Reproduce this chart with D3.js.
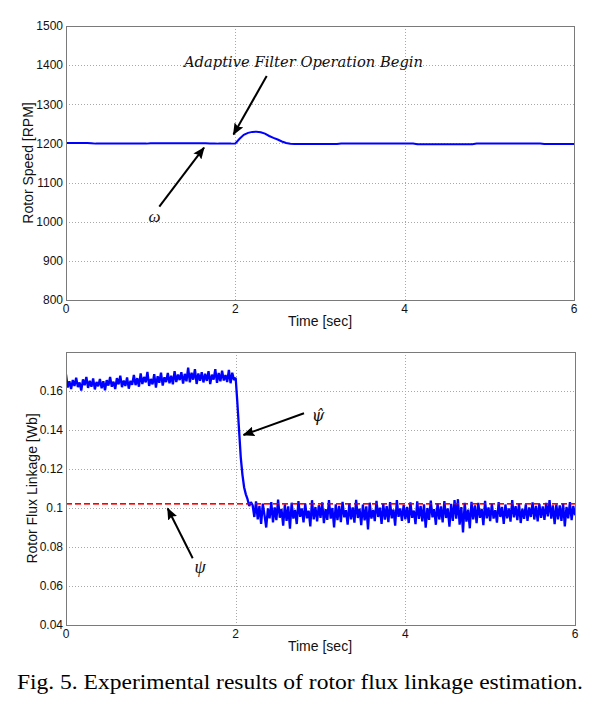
<!DOCTYPE html>
<html><head><meta charset="utf-8">
<script src="https://cdn.jsdelivr.net/npm/d3@7"></script>
<style>body{margin:0;background:#fff} svg{display:block}</style>
</head><body>
<svg id="c" width="604" height="707"></svg>
<script>
// ---------- data ----------
const xTicks = [0, 2, 4, 6];
const xTickLabels = ["0", "2", "4", "6"];
const speedTicks = [800, 900, 1000, 1100, 1200, 1300, 1400, 1500];
const speedTickLabels = ["800", "900", "1000", "1100", "1200", "1300", "1400", "1500"];
const fluxTicks = [0.04, 0.06, 0.08, 0.1, 0.12, 0.14, 0.16];
const fluxTickLabels = ["0.04", "0.06", "0.08", "0.1", "0.12", "0.14", "0.16"];
const fluxDomain = [0.04, 0.18];
const speedDomain = [800, 1500];
const timeDomain = [0, 6];

// rotor speed [RPM], sampled every 0.05 s from 0 to 6 s
const speedStep = 0.05;
const speedValues = [
  1201, 1201, 1201, 1201, 1201, 1201, 1200.5,
  1199.5, 1199.5, 1199.5, 1199.5, 1199.5, 1199.5, 1199.5, 1199.5, 1199.5, 1199.5, 1199.5, 1199.5, 1199.5,
  1200.5, 1200.5, 1200.5, 1200.5, 1200.5, 1200.5, 1200.5, 1200.5, 1200.5, 1200.5, 1200.5, 1200.5, 1200.5, 1200.5,
  1200, 1200, 1199.5, 1199.5, 1199.5, 1199.5,
  1200, 1212, 1222, 1227, 1229.5, 1230, 1228.5, 1225, 1219, 1214, 1210, 1205, 1201, 1199, 1198.5,
  1198.5, 1198.5, 1198.5, 1198.5, 1198.5, 1198.5, 1198.5, 1198.5, 1198.5, 1198.5,
  1199.5, 1199.5, 1199.5, 1199.5, 1199.5, 1199.5, 1199.5, 1199.5, 1199.5, 1199.5, 1199.5, 1199.5, 1199.5, 1199.5, 1199.5, 1199.5, 1199.5, 1199.5,
  1198, 1198, 1198, 1198, 1198, 1198, 1198, 1198, 1198, 1198, 1198, 1198, 1198, 1198,
  1199.5, 1199.5, 1199.5, 1199.5, 1199.5, 1199.5, 1199.5, 1199.5, 1199.5, 1199.5, 1199.5, 1199.5, 1199.5, 1199.5, 1199.5, 1199.5,
  1198.5, 1198.5, 1198.5, 1198.5, 1198.5, 1198.5, 1198.5, 1198.5
];

// estimated rotor flux linkage [Wb], sampled every 0.02 s from 0 to 6 s
const fluxStep = 0.02;
const fluxEstimated = [
  0.1685, 0.1618, 0.1650, 0.1610, 0.1656, 0.1626, 0.1668, 0.1620, 0.1644, 0.1602, 0.1660, 0.1630, 0.1672, 0.1616, 0.1652, 0.1622, 0.1664, 0.1608, 0.1646, 0.1624,
  0.1662, 0.1614, 0.1650, 0.1604, 0.1656, 0.1628, 0.1672, 0.1622, 0.1648, 0.1610, 0.1666, 0.1634, 0.1678, 0.1620, 0.1654, 0.1626, 0.1670, 0.1612, 0.1652, 0.1632,
  0.1682, 0.1630, 0.1666, 0.1622, 0.1690, 0.1636, 0.1672, 0.1644, 0.1698, 0.1626, 0.1662, 0.1634, 0.1686, 0.1618, 0.1676, 0.1642, 0.1694, 0.1628, 0.1670, 0.1646,
  0.1692, 0.1640, 0.1678, 0.1634, 0.1702, 0.1646, 0.1684, 0.1656, 0.1696, 0.1638, 0.1688, 0.1650, 0.1720, 0.1644, 0.1694, 0.1658, 0.1712, 0.1636, 0.1690, 0.1652,
  0.1696, 0.1644, 0.1688, 0.1652, 0.1702, 0.1636, 0.1684, 0.1658, 0.1712, 0.1642, 0.1692, 0.1650, 0.1704, 0.1654, 0.1682, 0.1646, 0.1708, 0.1640, 0.1694, 0.1656,
  0.1668, 0.1540, 0.1400, 0.1260, 0.1170, 0.1105, 0.1070, 0.1045, 0.1010, 0.1030,
  0.1014, 0.0954, 0.1034, 0.0942, 0.1011, 0.0918, 0.1022, 0.0963, 0.0900, 0.0998,
  0.0947, 0.1030, 0.0926, 0.1003, 0.0938, 0.1043, 0.0950, 0.0995, 0.0910, 0.1018,
  0.0934, 0.1008, 0.0894, 0.1027, 0.0946, 0.0990, 0.0918, 0.1035, 0.0955, 0.0998,
  0.0926, 0.1022, 0.0947, 0.0986, 0.0906, 0.1040, 0.0942, 0.1005, 0.0931, 0.1014,
  0.0950, 0.1029, 0.0922, 0.0994, 0.0939, 0.1040, 0.0946, 0.1000, 0.0901, 0.1019,
  0.0938, 0.1011, 0.0928, 0.1032, 0.0952, 0.0989, 0.0915, 0.1024, 0.0942, 0.1003,
  0.0925, 0.1042, 0.0949, 0.0997, 0.0912, 0.1018, 0.0936, 0.1008, 0.0890, 0.1027,
  0.0946, 0.0990, 0.0933, 0.1037, 0.0954, 0.1002, 0.0918, 0.1021, 0.0941, 0.1010,
  0.0928, 0.1030, 0.0947, 0.0992, 0.0909, 0.1040, 0.0955, 0.0998, 0.0934, 0.1016,
  0.0942, 0.1006, 0.0923, 0.1029, 0.0950, 0.0987, 0.0917, 0.1034, 0.0944, 0.1011,
  0.0931, 0.1019, 0.0899, 0.1000, 0.0939, 0.1038, 0.0952, 0.0994, 0.0914, 0.1024,
  0.0941, 0.1008, 0.0926, 0.1035, 0.0949, 0.0998, 0.0904, 0.1021, 0.0934, 0.1040,
  0.0946, 0.1045, 0.0915, 0.1005, 0.0875, 0.1027, 0.0930, 0.0992, 0.0896, 0.1032,
  0.0942, 0.1013, 0.0922, 0.1026, 0.0950, 0.0995, 0.0912, 0.1037, 0.0947, 0.1003,
  0.0933, 0.1022, 0.0946, 0.0989, 0.0925, 0.1030, 0.0954, 0.1006, 0.0918, 0.1018,
  0.0947, 0.0998, 0.0930, 0.1040, 0.0952, 0.1010, 0.0938, 0.1024, 0.0923, 0.0997,
  0.0944, 0.1019, 0.0934, 0.1003, 0.0954, 0.1029, 0.0941, 0.1011, 0.0931, 0.1021,
  0.0950, 0.1008, 0.0939, 0.1026, 0.0957, 0.1040, 0.0946, 0.1013, 0.0917, 0.1018,
  0.0942, 0.1014, 0.0934, 0.1022, 0.0906, 0.1006, 0.0947, 0.1030, 0.0938, 0.1011,
  0.0963
];
// actual rotor flux linkage [Wb]
const fluxActual = 0.1022;

const texts = {
  speedY: "Rotor Speed [RPM]",
  fluxY: "Rotor Flux Linkage [Wb]",
  timeX: "Time [sec]",
  note: "Adaptive Filter Operation Begin",
  omega: "ω",
  psi: "ψ",
  psiHat: "ψ\u0302",
  caption: "Fig. 5. Experimental results of rotor flux linkage estimation."
};

// ---------- drawing ----------
const svg = d3.select("#c");
const sans = "'Liberation Sans', Arial, sans-serif";
const serif = "'Liberation Serif', 'Times New Roman', serif";

const defs = svg.append("defs");
defs.append("marker").attr("id", "ah")
  .attr("viewBox", "0 0 12 10").attr("refX", 11).attr("refY", 5)
  .attr("markerWidth", 12).attr("markerHeight", 10)
  .attr("markerUnits", "userSpaceOnUse").attr("orient", "auto")
  .append("path").attr("d", "M0,0 L12,5 L0,10 L2,5 Z").attr("fill", "#000");

function panel(cfg) {
  const x = d3.scaleLinear().domain(timeDomain).range([cfg.left, cfg.right]);
  const y = d3.scaleLinear().domain(cfg.domain).range([cfg.bottom, cfg.top]);
  const g = svg.append("g");
  const clipId = "clip" + cfg.id;
  defs.append("clipPath").attr("id", clipId).append("rect")
    .attr("x", cfg.left).attr("y", cfg.top)
    .attr("width", cfg.right - cfg.left).attr("height", cfg.bottom - cfg.top);

  // grid
  g.append("g").selectAll("line").data(cfg.ticks.filter(v => v > cfg.domain[0] && v < cfg.domain[1]))
    .join("line")
    .attr("x1", cfg.left).attr("x2", cfg.right)
    .attr("y1", d => Math.round(y(d)) + 0.5).attr("y2", d => Math.round(y(d)) + 0.5)
    .attr("stroke", "#a8a8a8").attr("stroke-width", 1).attr("stroke-dasharray", "1,2");
  g.append("g").selectAll("line").data(xTicks.filter(v => v > 0 && v < 6))
    .join("line")
    .attr("y1", cfg.top).attr("y2", cfg.bottom)
    .attr("x1", d => Math.round(x(d)) + 0.5).attr("x2", d => Math.round(x(d)) + 0.5)
    .attr("stroke", "#a8a8a8").attr("stroke-width", 1).attr("stroke-dasharray", "1,2");

  // data
  const dg = g.append("g").attr("clip-path", `url(#${clipId})`);
  cfg.draw(dg, x, y);

  // box
  g.append("rect")
    .attr("x", cfg.left + 0.5).attr("y", cfg.top + 0.5)
    .attr("width", cfg.right - cfg.left).attr("height", cfg.bottom - cfg.top)
    .attr("fill", "none").attr("stroke", "#7a7a7a").attr("stroke-width", 1);

  // y tick labels
  g.append("g").selectAll("text").data(cfg.ticks).join("text")
    .attr("x", cfg.left - 3).attr("y", d => y(d)).attr("dy", "0.36em")
    .attr("text-anchor", "end").attr("font-family", sans).attr("font-size", 12).attr("fill", "#111")
    .text((d, i) => cfg.tickLabels[i]);
  // x tick labels
  g.append("g").selectAll("text").data(xTicks).join("text")
    .attr("x", d => x(d)).attr("y", cfg.bottom + 12.5)
    .attr("text-anchor", "middle").attr("font-family", sans).attr("font-size", 12).attr("fill", "#111")
    .text((d, i) => xTickLabels[i]);
  // axis titles
  g.append("text").attr("x", 320).attr("y", cfg.bottom + 26)
    .attr("text-anchor", "middle").attr("font-family", sans).attr("font-size", 14).attr("fill", "#111")
    .text(texts.timeX);
  g.append("text")
    .attr("transform", `translate(${cfg.yLabelX},${(cfg.top + cfg.bottom) / 2}) rotate(-90)`)
    .attr("text-anchor", "middle").attr("dy", "0.36em")
    .attr("font-family", sans).attr("font-size", 14).attr("fill", "#111")
    .text(cfg.yLabel);
  return { x, y };
}

// top panel: rotor speed
panel({
  id: 1, left: 66, right: 574, top: 26, bottom: 300,
  domain: speedDomain, ticks: speedTicks, tickLabels: speedTickLabels,
  yLabel: texts.speedY, yLabelX: 28,
  draw: (g, x, y) => {
    const line = d3.line().x((d, i) => x(i * speedStep)).y(d => y(d));
    g.append("path").datum(speedValues).attr("d", line)
      .attr("fill", "none").attr("stroke", "#0000ff").attr("stroke-width", 2);
  }
});

// bottom panel: rotor flux linkage
panel({
  id: 2, left: 66, right: 575, top: 352, bottom: 625,
  domain: fluxDomain, ticks: fluxTicks, tickLabels: fluxTickLabels,
  yLabel: texts.fluxY, yLabelX: 32,
  draw: (g, x, y) => {
    const line = d3.line().x((d, i) => x(i * fluxStep)).y(d => y(d));
    g.append("line")
      .attr("x1", x(timeDomain[0])).attr("x2", x(timeDomain[1]))
      .attr("y1", y(fluxActual)).attr("y2", y(fluxActual))
      .attr("stroke", "#ff0000").attr("stroke-width", 1.6).attr("stroke-dasharray", "6,3");
    g.append("path").datum(fluxEstimated).attr("d", line)
      .attr("fill", "none").attr("stroke", "#0000ff").attr("stroke-width", 2.3)
      .attr("stroke-linejoin", "bevel");
    g.append("line")
      .attr("x1", x(timeDomain[0])).attr("x2", x(timeDomain[1]))
      .attr("y1", y(fluxActual)).attr("y2", y(fluxActual))
      .attr("stroke", "#ff0000").attr("stroke-width", 1.6).attr("stroke-dasharray", "6,3")
      .attr("stroke-opacity", 0.6);
  }
});

// annotations
function arrow(x1, y1, x2, y2) {
  svg.append("line").attr("x1", x1).attr("y1", y1).attr("x2", x2).attr("y2", y2)
    .attr("stroke", "#000").attr("stroke-width", 2).attr("marker-end", "url(#ah)");
}
arrow(266.7, 76, 233.5, 134.5);
arrow(159.3, 206.7, 204, 147.7);
arrow(304, 413.3, 243.5, 435);
arrow(192.7, 558.3, 167.7, 508.5);

svg.append("text").attr("x", 184).attr("y", 67)
  .attr("font-family", "'DejaVu Serif', serif").attr("font-style", "italic").attr("font-size", 14)
  .attr("textLength", 239).attr("lengthAdjust", "spacingAndGlyphs").attr("fill", "#111")
  .text(texts.note);
svg.append("text").attr("x", 154.5).attr("y", 222).attr("text-anchor", "middle")
  .attr("font-family", serif).attr("font-style", "italic").attr("font-size", 17).attr("fill", "#111")
  .text(texts.omega);
svg.append("text").attr("x", 200).attr("y", 573).attr("text-anchor", "middle")
  .attr("font-family", serif).attr("font-style", "italic").attr("font-size", 18).attr("fill", "#111")
  .text(texts.psi);
svg.append("text").attr("x", 318).attr("y", 421).attr("text-anchor", "middle")
  .attr("font-family", "'DejaVu Serif', serif").attr("font-style", "italic").attr("font-size", 16).attr("fill", "#111")
  .text(texts.psiHat);

// caption
svg.append("text").attr("x", 17).attr("y", 689)
  .attr("font-family", serif).attr("font-size", 21).attr("fill", "#000")
  .attr("textLength", 566).attr("lengthAdjust", "spacingAndGlyphs")
  .text(texts.caption);
</script>
</body></html>
